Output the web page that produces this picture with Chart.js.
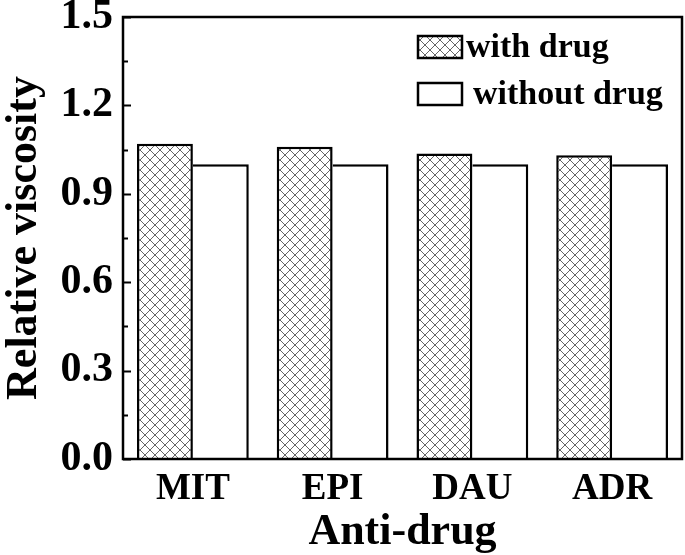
<!DOCTYPE html>
<html>
<head>
<meta charset="utf-8">
<script src="https://cdn.jsdelivr.net/npm/chart.js@4"></script>
<style>
  html, body { margin: 0; padding: 0; background: #fff; }
  #wrap { width: 685px; height: 555px; }
</style>
</head>
<body>
<div id="wrap"><canvas id="viscChart" width="685" height="555"></canvas></div>
<script>
// data
const drugs = ['MIT', 'EPI', 'DAU', 'ADR'];
const withDrug = [1.07, 1.06, 1.037, 1.031];
const withoutDrug = [1.0, 1.0, 1.0, 1.0];
const yTicks = [0.0, 0.3, 0.6, 0.9, 1.2, 1.5];

const FONT = '"Liberation Serif", "Times New Roman", serif';

// cross hatch fill for the "with drug" bars
function makeHatch() {
    const c = document.createElement('canvas');
    c.width = 10; c.height = 10;
    const g = c.getContext('2d');
    g.fillStyle = '#fff';
    g.fillRect(0, 0, 10, 10);
    g.strokeStyle = '#666';
    g.lineWidth = 1;
    g.beginPath();
    g.moveTo(0, 0); g.lineTo(10, 10);
    g.moveTo(10, 0); g.lineTo(0, 10);
    g.stroke();
    return g.createPattern(c, 'repeat');
}
const hatch = makeHatch();

// frame, inward ticks and the legend inside the plot
const framePlugin = {
    id: 'frame',
    afterDraw(chart) {
        const { ctx, chartArea: a, scales } = chart;
        ctx.save();
        ctx.strokeStyle = '#000';
        ctx.lineWidth = 2.5;
        ctx.strokeRect(a.left, a.top, a.right - a.left, a.bottom - a.top);

        // major + minor ticks on the left axis, pointing inward
        ctx.lineWidth = 2;
        for (let v = 0; v <= 1.5001; v += 0.15) {
            const y = Math.round(scales.y.getPixelForValue(v)) + 0.5;
            const major = Math.abs(v / 0.3 - Math.round(v / 0.3)) < 1e-6;
            ctx.beginPath();
            ctx.moveTo(a.left, y);
            ctx.lineTo(a.left + (major ? 8 : 5), y);
            ctx.stroke();
        }

        // legend
        const items = chart.data.datasets;
        const bx = 418, bw = 44, bh = 22;
        const rows = [36, 83];
        ctx.font = 'bold 34px ' + FONT;
        ctx.textBaseline = 'middle';
        items.forEach((ds, i) => {
            const y = rows[i];
            ctx.fillStyle = ds.backgroundColor;
            ctx.fillRect(bx, y, bw, bh);
            ctx.lineWidth = 2.5;
            ctx.strokeStyle = '#000';
            ctx.strokeRect(bx, y, bw, bh);
            ctx.fillStyle = '#000';
            ctx.fillText(ds.label, bx + bw + 4 + (i ? 7 : 0), y + bh / 2 + 1);
        });
        ctx.restore();
    }
};

new Chart(document.getElementById('viscChart').getContext('2d'), {
    type: 'bar',
    data: {
        labels: drugs,
        datasets: [{
            label: 'with drug',
            data: withDrug,
            backgroundColor: hatch,
            borderColor: '#000',
            borderWidth: 2.5
        }, {
            label: 'without drug',
            data: withoutDrug,
            backgroundColor: '#fff',
            borderColor: '#000',
            borderWidth: { left: 0, top: 2.5, right: 2.5, bottom: 0 }
        }]
    },
    options: {
        responsive: false,
        animation: false,
        devicePixelRatio: 1,
        layout: { padding: { left: 0, top: 17, right: 3, bottom: 0 } },
        datasets: { bar: { categoryPercentage: 0.8, barPercentage: 1.0 } },
        plugins: {
            legend: { display: false },
            tooltip: { enabled: false }
        },
        scales: {
            x: {
                grid: { display: false, drawTicks: false },
                border: { display: false },
                ticks: {
                    color: '#000',
                    padding: 8,
                    font: { family: FONT, size: 37, weight: 'bold' }
                },
                title: {
                    display: true,
                    text: 'Anti-drug',
                    color: '#000',
                    padding: { top: 0, bottom: 0 },
                    font: { family: FONT, size: 44, weight: 'bold', lineHeight: 1.0 }
                },
                afterFit(scale) { scale.height = 96; }
            },
            y: {
                min: 0,
                max: 1.5,
                afterBuildTicks(scale) {
                    scale.ticks = yTicks.map(v => ({ value: v }));
                },
                grid: { display: false, drawTicks: false },
                border: { display: false },
                ticks: {
                    color: '#000',
                    padding: 10,
                    font: { family: FONT, size: 42, weight: 'bold' },
                    callback: v => v.toFixed(1)
                },
                title: {
                    display: true,
                    text: 'Relative viscosity',
                    color: '#000',
                    padding: { top: 0, bottom: 0 },
                    font: { family: FONT, size: 44, weight: 'bold', lineHeight: 1.1 }
                },
                afterFit(scale) {
                    scale.width = 123;
                    scale.paddingTop = 0;
                    scale.paddingBottom = 0;
                }
            }
        }
    },
    plugins: [framePlugin]
});
</script>
</body>
</html>
